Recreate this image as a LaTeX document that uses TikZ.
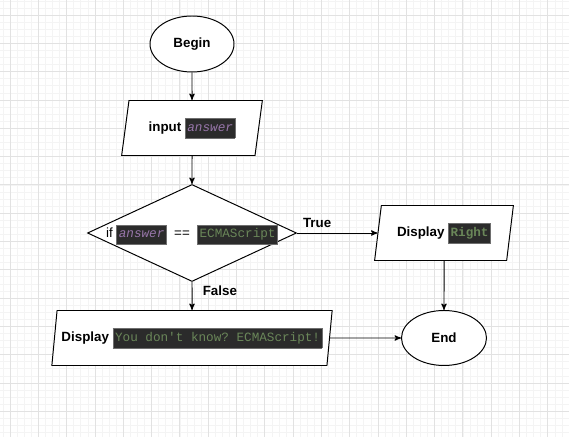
\documentclass[tikz,border=0pt]{standalone}
\usepackage{fontspec}
\setmainfont{Liberation Sans}
\setmonofont{Liberation Mono}
\usepackage{xcolor}
\usepackage{tikz}
\usetikzlibrary{arrows, positioning, shapes.geometric}

\definecolor{codebg}{HTML}{2B2B2B}
\definecolor{codeframe}{HTML}{6E6E6E}
\definecolor{codevar}{HTML}{9876AA}
\definecolor{codestr}{HTML}{6A8759}
\definecolor{gridmajor}{HTML}{E2E2E2}
\definecolor{gridminor}{HTML}{F4F4F4}

\newcommand{\codebox}[2]{{\setlength{\fboxsep}{1.3pt}\fcolorbox{codeframe}{codebg}{\strut\fontsize{9}{10}\ttfamily\textcolor{#1}{#2}}}}

\begin{document}
\begin{tikzpicture}[->,
				>=stealth',
				line width=0.7pt,
				font=\fontsize{9.5}{11}\selectfont,
				terminal/.style={ellipse, draw, black, fill=white, font=\fontsize{9.5}{11}\selectfont\bfseries,
					minimum width=#1, minimum height=1.4cm, inner sep=0pt},
				inout/.style={trapezium, trapezium left angle=76, trapezium right angle=104,
					trapezium stretches=true, draw, fill=white, minimum width=#1,
					minimum height=1.375cm, inner sep=0pt},
				choice/.style={diamond, draw, fill=white, aspect=2, inner sep=0pt,
					minimum width=5.225cm, minimum height=2.425cm}]
				% background grid
				\useasboundingbox (0,0) rectangle (14.225,-10.925);
				\begin{scope}[-, shift={(0.25,-0.375)}]
				\clip (-0.25,0.375) rectangle (13.975,-10.55);
				\draw[gridminor, line width=0.4pt, step=0.176875] (-1,1) grid (15,-12);
				\draw[gridmajor, line width=0.5pt, step=0.7075] (-1,1) grid (15,-12);
				\end{scope}
				% flow chart
				\node at (4.8,-1.1) (begin) [terminal=2.1cm] {Begin};
				\node at (4.8,-3.2) (input) [inout=3.525cm] {\textbf{input} \codebox{codevar}{\itshape answer}};
				\node at (4.8,-5.825) (check) [choice] {\raisebox{-3.4pt}[0pt][0pt]{if \codebox{codevar}{\itshape answer} \ == \ \codebox{codestr}{ECMAScript}}};
				\node at (11.1,-5.825) (right) [inout=3.475cm] {\textbf{Display} \codebox{codestr}{\bfseries Right}};
				\node at (4.8,-8.45) (wrong) [inout=7.025cm] {\textbf{Display} \codebox{codestr}{You don't know? ECMAScript!}};
				\node at (11.1,-8.45) (end) [terminal=2.125cm, minimum height=1.375cm] {End};
				\draw[->, black] (begin) -- (input);
				\draw[->, black] (input) -- (check);
				\draw[->, black] (check.east) -- node[pos=0.25, above, font=\fontsize{9.5}{11}\selectfont\bfseries] (truelbl) {True} (right.west);
				\draw[->, black] (check.south) -- node[pos=0.3, right=4pt, font=\fontsize{9.5}{11}\selectfont\bfseries] (falselbl) {False} (wrong.north);
				\draw[->, black] (right) -- (end);
				\draw[->, black] (wrong.east) -- (end.west);
			\end{tikzpicture}
\end{document}
